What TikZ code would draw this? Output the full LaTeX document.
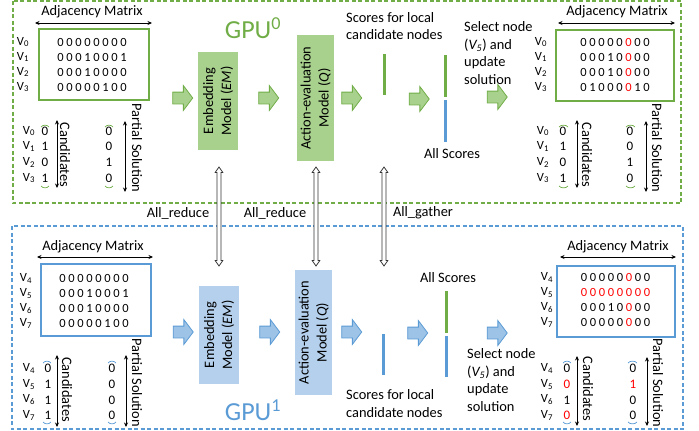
\documentclass[tikz,border=0pt]{standalone}
\usepackage{fontspec}
\setmainfont{Carlito}
\usetikzlibrary{shapes.arrows,arrows.meta}

\definecolor{gdark}{HTML}{70AD47}
\definecolor{glight}{HTML}{A9D18E}
\definecolor{bdark}{HTML}{5B9BD5}
\definecolor{blight}{HTML}{9DC3E6}
\definecolor{bbox}{HTML}{B4D0EC}

% one row of the adjacency matrix, eight evenly spaced entries
\newcommand\bitrow[8]{\makebox[9pt]{#1}\makebox[9pt]{#2}\makebox[9pt]{#3}\makebox[9pt]{#4}%
  \makebox[9pt]{#5}\makebox[9pt]{#6}\makebox[9pt]{#7}\makebox[9pt]{#8}}
\newcommand\rz{\textcolor{red}{0}}
\newcommand\Vs[1]{V\textsubscript{#1}}

\tikzset{
  txt/.style={inner sep=0pt, font=\fontsize{14.4}{17.5}\selectfont},
  bits/.style={inner sep=0pt, align=center, font=\fontsize{12.5}{15}\selectfont},
  vlab/.style={inner sep=0pt, align=center, font=\fontsize{12.5}{15}\selectfont},
  vec/.style={inner sep=0pt, align=center, font=\fontsize{13}{15.7}\selectfont},
  mbox/.style={draw, line width=1.6pt, inner sep=0pt},
  dimarrow/.style={{Stealth[length=4.5pt,width=4pt]}-{Stealth[length=4.5pt,width=4pt]}, line width=0.7pt},
  vecarc/.style={line width=0.7pt},
  blk/.style={shape=single arrow, inner sep=5.5pt, single arrow head extend=6.5pt,
    single arrow tip angle=106, minimum height=20pt, line width=0.8pt},
  model/.style={inner sep=0pt, align=center, font=\fontsize{14.4}{18}\selectfont},
  scorebar/.style={line width=3pt},
  comm/.style={shape=double arrow, rotate=90, inner sep=1.6pt, double arrow head extend=1.8pt,
    double arrow tip angle=70, minimum height=99pt, draw=black!80, fill=white, line width=0.75pt},
  gpulab/.style={inner sep=0pt, font=\fontsize{26}{30}\selectfont},
  region/.style={dashed, dash pattern=on 4pt off 2.5pt, line width=1.3pt},
}

\begin{document}
\begin{tikzpicture}[x=1pt,y=-1pt]
\useasboundingbox (0,0) rectangle (699,431);

% ---------- the two GPU regions ----------
\draw[region, gdark] (13,1) rectangle (681,203);
\draw[region, bdark] (12,226) rectangle (683,429);
\node[gpulab, text=gdark] (gpu0) at (253,28) {GPU\textsuperscript{0}};
\node[gpulab, text=bdark] (gpu1) at (253,410) {GPU\textsuperscript{1}};

% ================= GPU 0 =================
% adjacency matrix (input)
\node[txt] (amTL) at (92,12) {Adjacency Matrix};
\coordinate (amTLa) at (35,23); \coordinate (amTLb) at (152,23);
\draw[dimarrow] (amTLa) -- (amTLb);
\node[mbox, draw=gdark, minimum width=110pt, minimum height=71pt] (mTL) at (94,64.5) {};
\node[bits] (rTL) at (92,64.5) {\bitrow00000000\\\bitrow00010001\\\bitrow00010000\\\bitrow00000100};
\node[vlab] (vTL) at (23,64.5) {\Vs0\\\Vs1\\\Vs2\\\Vs3};

% candidates / partial solution (input)
\node[vlab, font=\fontsize{12.5}{15.7}\selectfont] (cvTL) at (29,154.5) {\Vs0\\\Vs1\\\Vs2\\\Vs3};
\node[vec] (cTL) at (45,154.5) {0\\1\\0\\1};
\draw[vecarc, gdark] (41,127) .. controls (43,124.5) and (47,124.5) .. (49,127);
\draw[vecarc, gdark] (41,186) .. controls (43,188.5) and (47,188.5) .. (49,186);
\coordinate (caTLa) at (57,120); \coordinate (caTLb) at (57,188);
\draw[dimarrow] (caTLa) -- (caTLb);
\node[txt, rotate=-90] (ctTL) at (65,155) {Candidates};
\node[vec] (pTL) at (109,154.5) {0\\0\\1\\0};
\draw[vecarc, gdark] (105,127) .. controls (107,124.5) and (111,124.5) .. (113,127);
\draw[vecarc, gdark] (105,186) .. controls (107,188.5) and (111,188.5) .. (113,186);
\coordinate (paTLa) at (125,121); \coordinate (paTLb) at (125,192);
\draw[dimarrow] (paTLa) -- (paTLb);
\node[txt, rotate=-90] (ptTL) at (137,148) {Partial Solution};

% pipeline
\node[blk, draw=gdark, fill=glight] (ga1) at (180.5,98) {};
\node[model, fill=glight, minimum width=40pt, minimum height=98pt] (em0) at (218,101) {};
\node[model, rotate=90] (em0t) at (em0) {Embedding\\Model (\textit{EM})};
\node[blk, draw=gdark, fill=glight] (ga2) at (266.5,98) {};
\node[model, fill=glight, minimum width=37pt, minimum height=126pt] (q0) at (315.5,98) {};
\node[model, rotate=90] (q0t) at (q0) {Action-evaluation\\Model (\textit{Q})};
\node[blk, draw=gdark, fill=glight] (ga3) at (349.5,98) {};
\node[txt, align=left, anchor=west] (sl0) at (346,26) {Scores for local\\candidate nodes};
\coordinate (sb0a) at (384,54); \coordinate (sb0b) at (384,95);
\draw[scorebar, gdark] (sb0a) -- (sb0b);
\node[blk, draw=gdark, fill=glight] (ga4) at (417,99) {};
\coordinate (as0a) at (445,55); \coordinate (as0b) at (445,97);
\coordinate (as0c) at (445,100); \coordinate (as0d) at (445,142);
\draw[scorebar, gdark] (as0a) -- (as0b);
\draw[scorebar, bdark] (as0c) -- (as0d);
\node[txt] (ast0) at (452,154) {All Scores};
\node[txt, align=left, anchor=west] (sel0) at (464,53) {Select node\\(\textit{V\textsubscript{5}}) and\\update\\solution};
\node[blk, draw=gdark, fill=glight] (ga5) at (495,97) {};

% adjacency matrix (updated)
\node[txt] (amTR) at (617,12) {Adjacency Matrix};
\coordinate (amTRa) at (558,23); \coordinate (amTRb) at (675,23);
\draw[dimarrow] (amTRa) -- (amTRb);
\node[mbox, draw=gdark, minimum width=118pt, minimum height=71pt] (mTR) at (615,65.5) {};
\node[bits] (rTR) at (615,64.5) {\bitrow00000\rz00\\\bitrow00010\rz00\\\bitrow00010\rz00\\\bitrow01000\rz10};
\node[vlab] (vTR) at (541,64.5) {\Vs0\\\Vs1\\\Vs2\\\Vs3};

% candidates / partial solution (updated)
\node[vlab, font=\fontsize{12.5}{15.7}\selectfont] (cvTR) at (543,154.5) {\Vs0\\\Vs1\\\Vs2\\\Vs3};
\node[vec] (cTR) at (563,154.5) {0\\1\\0\\1};
\draw[vecarc, gdark] (559,127) .. controls (561,124.5) and (566,124.5) .. (568,127);
\draw[vecarc, gdark] (559,186) .. controls (561,188.5) and (566,188.5) .. (568,186);
\coordinate (caTRa) at (577,120); \coordinate (caTRb) at (577,188);
\draw[dimarrow] (caTRa) -- (caTRb);
\node[txt, rotate=-90] (ctTR) at (587,155) {Candidates};
\node[vec] (pTR) at (630,154.5) {0\\0\\1\\0};
\draw[vecarc, gdark] (626,127) .. controls (628,124.5) and (633,124.5) .. (635,127);
\draw[vecarc, gdark] (626,186) .. controls (628,188.5) and (633,188.5) .. (635,186);
\coordinate (paTRa) at (646,121); \coordinate (paTRb) at (646,192);
\draw[dimarrow] (paTRa) -- (paTRb);
\node[txt, rotate=-90] (ptTR) at (657,148) {Partial Solution};

% ================= GPU 1 =================
\node[txt] (amBL) at (93,247) {Adjacency Matrix};
\coordinate (amBLa) at (37,257); \coordinate (amBLb) at (153,257);
\draw[dimarrow] (amBLa) -- (amBLb);
\node[mbox, draw=bdark, minimum width=110pt, minimum height=72pt] (mBL) at (96,300) {};
\node[bits] (rBL) at (94,301) {\bitrow00000000\\\bitrow00010001\\\bitrow00010000\\\bitrow00000100};
\node[vlab] (vBL) at (26,301) {\Vs4\\\Vs5\\\Vs6\\\Vs7};

\node[vlab, font=\fontsize{12.5}{15.7}\selectfont] (cvBL) at (29,392) {\Vs4\\\Vs5\\\Vs6\\\Vs7};
\node[vec] (cBL) at (48,392) {0\\1\\1\\1};
\draw[vecarc, bdark] (43,363) .. controls (45,360.5) and (49,360.5) .. (51,363);
\draw[vecarc, bdark] (43,422) .. controls (45,424.5) and (49,424.5) .. (51,422);
\coordinate (caBLa) at (57,355); \coordinate (caBLb) at (57,427);
\draw[dimarrow] (caBLa) -- (caBLb);
\node[txt, rotate=-90] (ctBL) at (67,389.5) {Candidates};
\node[vec] (pBL) at (112,392) {0\\0\\0\\0};
\draw[vecarc, bdark] (108,363) .. controls (110,360.5) and (114,360.5) .. (116,363);
\draw[vecarc, bdark] (108,422) .. controls (110,424.5) and (114,424.5) .. (116,422);
\coordinate (paBLa) at (126,355); \coordinate (paBLb) at (126,427);
\draw[dimarrow] (paBLa) -- (paBLb);
\node[txt, rotate=-90] (ptBL) at (137,382.5) {Partial Solution};

\node[blk, draw=bdark, fill=blight] (ba1) at (181,332) {};
\node[model, fill=bbox, minimum width=40pt, minimum height=98pt] (em1) at (219,335) {};
\node[model, rotate=90] (em1t) at (em1) {Embedding\\Model (\textit{EM})};
\node[blk, draw=bdark, fill=blight] (ba2) at (267.5,332) {};
\node[model, fill=bbox, minimum width=37pt, minimum height=125pt] (q1) at (313.5,332.5) {};
\node[model, rotate=90] (q1t) at (q1) {Action-evaluation\\Model (\textit{Q})};
\node[blk, draw=bdark, fill=blight] (ba3) at (349.5,332) {};
\node[txt, align=left, anchor=west] (sl1) at (346,403.5) {Scores for local\\candidate nodes};
\coordinate (sb1a) at (383,334); \coordinate (sb1b) at (383,375);
\draw[scorebar, bdark] (sb1a) -- (sb1b);
\node[blk, draw=bdark, fill=blight] (ba4) at (415.5,333) {};
\coordinate (as1a) at (446,291); \coordinate (as1b) at (446,333);
\coordinate (as1c) at (446,336); \coordinate (as1d) at (446,377);
\draw[scorebar, gdark] (as1a) -- (as1b);
\draw[scorebar, bdark] (as1c) -- (as1d);
\node[txt] (ast1) at (448,278) {All Scores};
\node[txt, align=left, anchor=west] (sel1) at (467,380) {Select node\\(\textit{V\textsubscript{5}}) and\\update\\solution};
\node[blk, draw=bdark, fill=blight] (ba5) at (495,333) {};

\node[txt] (amBR) at (618,247) {Adjacency Matrix};
\coordinate (amBRa) at (560,257); \coordinate (amBRb) at (676,257);
\draw[dimarrow] (amBRa) -- (amBRb);
\node[mbox, draw=bdark, minimum width=118pt, minimum height=71pt] (mBR) at (616,301.5) {};
\node[bits] (rBR) at (615.5,300) {\bitrow00000\rz00\\\textcolor{red}{\bitrow00000000}\\\bitrow00010\rz00\\\bitrow00000\rz00};
\node[vlab] (vBR) at (547,300) {\Vs4\\\Vs5\\\Vs6\\\Vs7};

\node[vlab, font=\fontsize{12.5}{15.7}\selectfont] (cvBR) at (547,392) {\Vs4\\\Vs5\\\Vs6\\\Vs7};
\node[vec] (cBR) at (567,392) {0\\\rz\\1\\\rz};
\draw[vecarc, bdark] (563,363) .. controls (565,360.5) and (569,360.5) .. (571,363);
\draw[vecarc, bdark] (563,422) .. controls (565,424.5) and (569,424.5) .. (571,422);
\coordinate (caBRa) at (577,356); \coordinate (caBRb) at (577,426);
\draw[dimarrow] (caBRa) -- (caBRb);
\node[txt, rotate=-90] (ctBR) at (588,389) {Candidates};
\node[vec] (pBR) at (633,392) {0\\\textcolor{red}{1}\\0\\0};
\draw[vecarc, bdark] (628,363) .. controls (630,360.5) and (635,360.5) .. (637,363);
\draw[vecarc, bdark] (628,422) .. controls (630,424.5) and (635,424.5) .. (637,422);
\coordinate (paBRa) at (647,357); \coordinate (paBRb) at (647,426);
\draw[dimarrow] (paBRa) -- (paBRb);
\node[txt, rotate=-90] (ptBR) at (658,383) {Partial Solution};

% ---------- collective communication between the GPUs ----------
\node[txt] (ar1) at (178,213) {All\_reduce};
\node[txt] (ar2) at (275,213) {All\_reduce};
\node[txt] (ag) at (423,213) {All\_gather};
\node[comm] (c1) at (219,216.5) {};
\node[comm] (c2) at (316,216.5) {};
\node[comm] (c3) at (384,216.5) {};
\end{tikzpicture}
\end{document}
